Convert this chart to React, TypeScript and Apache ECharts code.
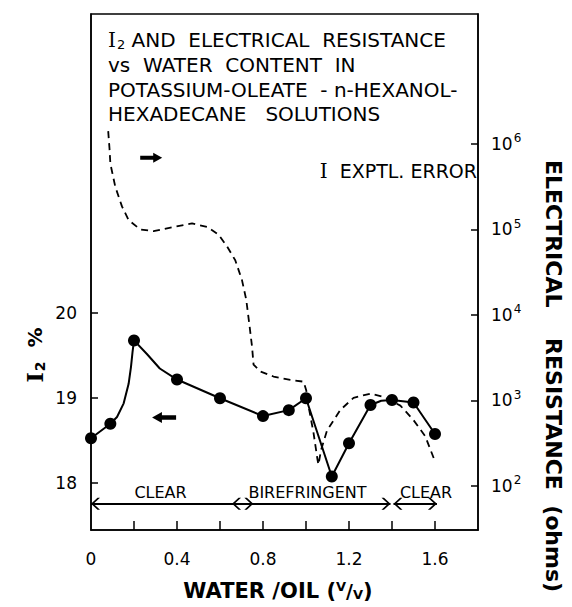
import { useEffect, useRef } from 'react';
import * as echarts from 'echarts';

// ---- axis ticks / labels ----
const xTickValues = [0.2, 0.4, 0.6, 0.8, 1.0, 1.2, 1.4, 1.6];
const xLabelValues = [0, 0.4, 0.8, 1.2, 1.6];
const i2TickValues = [18, 19, 20];
const resistanceExponents = [2, 3, 4, 5, 6];

// ---- measured I2 points (water/oil v/v, I2 %) ----
const i2WaterOil = [0, 0.09, 0.2, 0.4, 0.6, 0.8, 0.92, 1.0, 1.12, 1.2, 1.3, 1.4, 1.5, 1.6];
const i2Percent = [18.53, 18.7, 19.68, 19.22, 19.0, 18.79, 18.86, 19.0, 18.08, 18.47, 18.92, 18.98, 18.95, 18.58];

// ---- hand-drawn I2 curve ----
const i2CurveWaterOil = [0, 0.09, 0.121, 0.152, 0.175, 0.186, 0.193, 0.2, 0.26, 0.32, 0.4, 0.6, 0.8, 0.92, 1.0, 1.12, 1.2, 1.3, 1.35, 1.4, 1.5, 1.6];
const i2CurvePercent = [18.53, 18.7, 18.78, 18.94, 19.17, 19.37, 19.54, 19.68, 19.52, 19.35, 19.22, 19.0, 18.79, 18.86, 19.0, 18.08, 18.47, 18.92, 18.97, 18.98, 18.95, 18.58];

// ---- electrical resistance (dashed), log10 of ohms ----
const resistanceWaterOil = [0.08, 0.086, 0.09, 0.113, 0.144, 0.175, 0.229, 0.291, 0.384, 0.47, 0.54, 0.593, 0.633, 0.671, 0.702, 0.722, 0.738, 0.749, 0.756, 0.787, 0.849, 0.927, 0.989, 1.001, 1.012, 1.035, 1.054, 1.058, 1.07, 1.098, 1.16, 1.221, 1.299, 1.361, 1.439, 1.5, 1.555, 1.601];
const resistanceLog10 = [6.15, 5.95, 5.77, 5.5, 5.27, 5.11, 5.0, 4.98, 5.03, 5.07, 5.03, 4.94, 4.8, 4.64, 4.41, 4.18, 3.86, 3.63, 3.42, 3.34, 3.28, 3.24, 3.22, 3.12, 2.93, 2.62, 2.3, 2.25, 2.42, 2.65, 2.89, 3.03, 3.08, 3.04, 2.94, 2.77, 2.58, 2.28];

// ---- phase regions ----
const regionNames = ['CLEAR', 'BIREFRINGENT', 'CLEAR'];
const regionStart = [0, 0.656, 1.407];
const regionEnd = [0.755, 1.393, 1.609];
const regionLevel = 17.76;

// ---- direction arrows (which axis each curve belongs to) ----
const leftArrowAt = [0.34, 18.774];
const rightArrowAt = [0.28, 5.838];

const chevron =
  'path://M0,1 L0.01,1 L0,1.01 Z M0,10 L6,16.5 L6,19 L0,12.5 L-6,19 L-6,16.5 Z';
const rightArrow = 'path://M0,3 L13,3 L13,0 L22,5 L13,10 L13,7 L0,7 Z';
const leftArrow = 'path://M22,3 L9,3 L9,0 L0,5 L9,10 L9,7 L22,7 Z';

const SANS = 'DejaVu Sans';
const SERIF = 'DejaVu Serif';

export default function App() {
  const ref = useRef<HTMLDivElement>(null);

  useEffect(() => {
    if (!ref.current) return;
    const chart = echarts.init(ref.current, undefined, { renderer: 'svg' });

    const axisLineStyle = { color: '#000', width: 1.5 };
    const t = (size: number, weight: string = 'normal', family: string = SANS) => ({
      fontSize: size,
      fontFamily: family,
      fontWeight: weight,
      fill: '#000',
      color: '#000',
    });

    const titleRich = {
      i: { ...t(20, 'normal', SERIF), lineHeight: 18 },
      sub: { ...t(13), padding: [9, 0, 0, 1], lineHeight: 13 },
      t: { ...t(20), lineHeight: 18 },
    };

    const option: any = {
      animation: false,
      backgroundColor: '#fff',
      grid: {
        left: 91,
        right: 94,
        top: 14,
        bottom: 77,
        show: true,
        borderColor: '#000',
        borderWidth: 1.5,
        backgroundColor: 'transparent',
      },
      xAxis: {
        type: 'value',
        min: 0,
        max: 1.8,
        axisLine: { show: true, lineStyle: axisLineStyle },
        axisTick: { show: true, inside: true, length: 9, customValues: xTickValues, lineStyle: axisLineStyle },
        axisLabel: {
          customValues: xLabelValues,
          margin: 20,
          color: '#000',
          fontSize: 17,
          fontFamily: SANS,
          formatter: (v: number) => (v === 0 ? '0' : v.toFixed(1)),
        },
        splitLine: { show: false },
      },
      yAxis: [
        {
          type: 'value',
          min: 17.45,
          max: 23.52,
          position: 'left',
          axisLine: { show: true, lineStyle: axisLineStyle },
          axisTick: { show: true, inside: true, length: 7, customValues: i2TickValues, lineStyle: axisLineStyle },
          axisLabel: { customValues: i2TickValues, margin: 14, color: '#000', fontSize: 17, fontFamily: SANS },
          splitLine: { show: false },
        },
        {
          type: 'value',
          min: 1.485,
          max: 7.52,
          position: 'right',
          axisLine: { show: true, lineStyle: axisLineStyle },
          axisTick: { show: true, inside: true, length: 7, customValues: resistanceExponents, lineStyle: axisLineStyle },
          axisLabel: {
            customValues: resistanceExponents,
            margin: 13,
            color: '#000',
            formatter: (v: number) => `{b|10}{s|${Math.round(v)}}`,
            rich: {
              b: { fontSize: 17, fontFamily: SANS, color: '#000' },
              s: { fontSize: 12, fontFamily: SANS, color: '#000', padding: [0, 0, 11, 1] },
            },
          },
          splitLine: { show: false },
        },
      ],
      series: [
        {
          type: 'line',
          name: 'I2 curve',
          yAxisIndex: 0,
          data: i2CurveWaterOil.map((x, i) => [x, i2CurvePercent[i]]),
          symbol: 'none',
          lineStyle: { color: '#000', width: 2 },
          silent: true,
          z: 3,
          markLine: {
            silent: true,
            symbol: [chevron, chevron],
            symbolSize: [12, 18],
            lineStyle: { color: '#000', width: 1.8, type: 'solid' },
            itemStyle: { color: '#000' },
            label: { show: false },
            emphasis: { disabled: true },
            data: regionStart.map((s, i) => [
              { coord: [s, regionLevel] },
              { coord: [regionEnd[i], regionLevel] },
            ]),
          },
          markPoint: {
            silent: true,
            symbol: leftArrow,
            symbolSize: [24, 11],
            itemStyle: { color: '#000' },
            label: { show: false },
            data: [{ coord: leftArrowAt }],
          },
        },
        {
          type: 'scatter',
          name: 'I2 %',
          yAxisIndex: 0,
          data: i2WaterOil.map((x, i) => [x, i2Percent[i]]),
          symbol: 'circle',
          symbolSize: 12,
          itemStyle: { color: '#000', opacity: 1 },
          silent: true,
          z: 4,
        },
        {
          type: 'line',
          name: 'Electrical resistance',
          yAxisIndex: 1,
          data: resistanceWaterOil.map((x, i) => [x, resistanceLog10[i]]),
          symbol: 'none',
          lineStyle: { color: '#000', width: 1.8, type: [7, 5] },
          silent: true,
          z: 2,
          markPoint: {
            silent: true,
            symbol: rightArrow,
            symbolSize: [22, 10],
            itemStyle: { color: '#000' },
            label: { show: false },
            data: [{ coord: rightArrowAt }],
          },
        },
      ],
      graphic: [
        {
          type: 'text',
          x: 108,
          y: 40,
          style: { text: '{i|I}{sub|2}{t| AND  ELECTRICAL  RESISTANCE}', rich: titleRich, verticalAlign: 'middle', textVerticalAlign: 'middle' },
        },
        {
          type: 'text',
          x: 108,
          y: 65,
          style: { text: '{t|vs  WATER  CONTENT  IN}', rich: titleRich, verticalAlign: 'middle', textVerticalAlign: 'middle' },
        },
        {
          type: 'text',
          x: 108,
          y: 89.5,
          style: { text: '{t|POTASSIUM-OLEATE  - n-HEXANOL-}', rich: titleRich, verticalAlign: 'middle', textVerticalAlign: 'middle' },
        },
        {
          type: 'text',
          x: 108,
          y: 113.5,
          style: { text: '{t|HEXADECANE   SOLUTIONS}', rich: titleRich, verticalAlign: 'middle', textVerticalAlign: 'middle' },
        },
        {
          type: 'text',
          x: 477,
          y: 171,
          style: {
            text: '{i|I}{t|  EXPTL. ERROR}',
            rich: { i: { ...t(20, 'normal', SERIF) }, t: { ...t(19) } },
            align: 'right',
            textAlign: 'right',
            verticalAlign: 'middle',
            textVerticalAlign: 'middle',
          },
        },
        ...regionNames.map((name, i) => ({
          type: 'text',
          x: [160.5, 307.5, 426][i],
          y: 492.5,
          style: {
            text: name,
            ...t(16),
            align: 'center',
            textAlign: 'center',
            verticalAlign: 'middle',
            textVerticalAlign: 'middle',
          },
        })),
        {
          type: 'text',
          x: 35,
          y: 355,
          rotation: Math.PI / 2,
          style: {
            text: '{i|I}{sub|2}{t|  %}',
            rich: {
              i: { ...t(22, 'bold', SERIF) },
              sub: { ...t(14, 'bold'), padding: [9, 0, 0, 1] },
              t: { ...t(20, 'bold') },
            },
            align: 'center',
            textAlign: 'center',
            verticalAlign: 'middle',
            textVerticalAlign: 'middle',
          },
        },
        {
          type: 'text',
          x: 553,
          y: 376,
          rotation: -Math.PI / 2,
          style: {
            text: 'ELECTRICAL    RESISTANCE  (ohms)',
            ...t(22, 'bold'),
            align: 'center',
            textAlign: 'center',
            verticalAlign: 'middle',
            textVerticalAlign: 'middle',
          },
        },
        {
          type: 'text',
          x: 278,
          y: 591,
          style: {
            text: '{t|WATER /OIL (}{sup|V}{sl|/}{sub|V}{t|)}',
            rich: {
              t: { ...t(21, 'bold') },
              sup: { ...t(13, 'bold'), padding: [0, 0, 9, 0] },
              sl: { ...t(19, 'bold') },
              sub: { ...t(13, 'bold'), padding: [7, 0, 0, 0] },
            },
            align: 'center',
            textAlign: 'center',
            verticalAlign: 'middle',
            textVerticalAlign: 'middle',
          },
        },
      ],
    };

    chart.setOption(option);
    return () => chart.dispose();
  }, []);

  return (
    <div
      ref={ref}
      style={{ position: 'fixed', left: 0, top: 0, width: 572, height: 607, background: '#fff' }}
    />
  );
}
